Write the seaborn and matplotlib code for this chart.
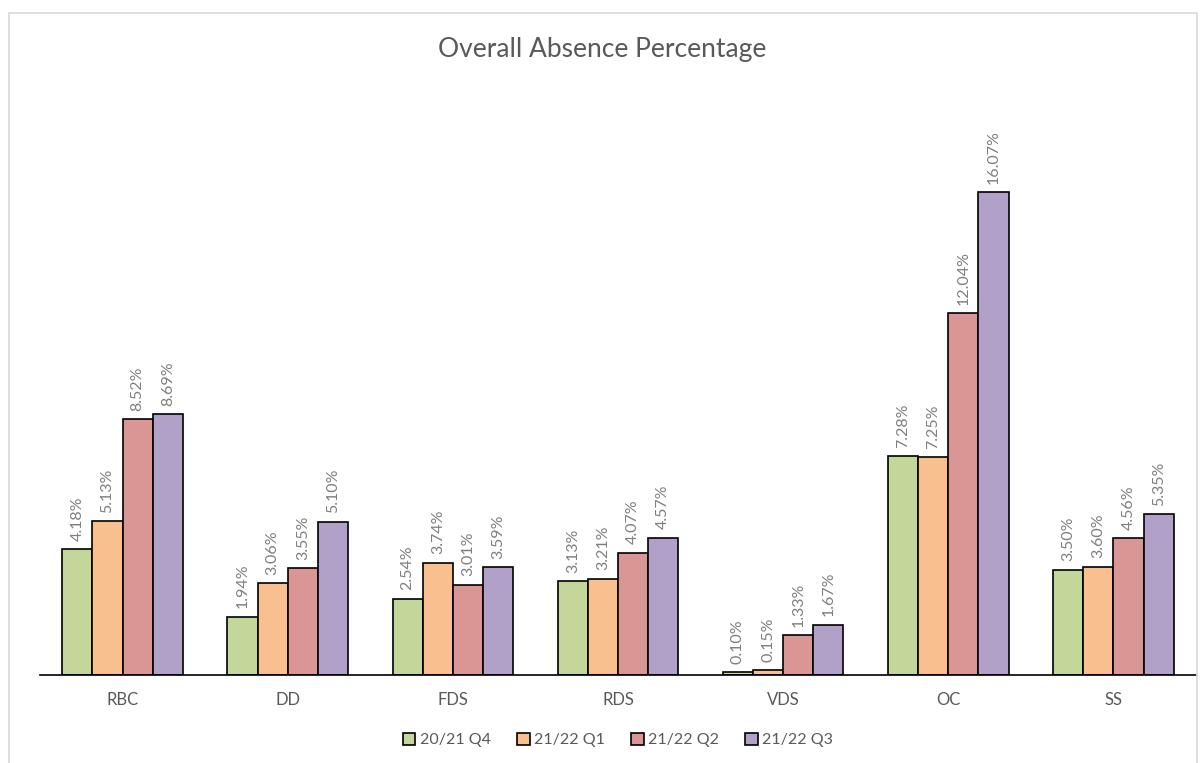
import matplotlib
matplotlib.use("Agg")
import matplotlib.pyplot as plt
from matplotlib.patches import Rectangle
import pandas as pd
import seaborn as sns

# data
sites = ["RBC", "DD", "FDS", "RDS", "VDS", "OC", "SS"]
quarters = ["20/21 Q4", "21/22 Q1", "21/22 Q2", "21/22 Q3"]
q4_2021 = [4.18, 1.94, 2.54, 3.13, 0.10, 7.28, 3.50]
q1_2122 = [5.13, 3.06, 3.74, 3.21, 0.15, 7.25, 3.60]
q2_2122 = [8.52, 3.55, 3.01, 4.07, 1.33, 12.04, 4.56]
q3_2122 = [8.69, 5.10, 3.59, 4.57, 1.67, 16.07, 5.35]
colours = ["#C4D79B", "#FABF8F", "#DA9694", "#B1A0C7"]

series = [q4_2021, q1_2122, q2_2122, q3_2122]
df = pd.DataFrame({
    "site": sites * len(quarters),
    "quarter": [q for q in quarters for _ in sites],
    "pct": [v for s in series for v in s],
})

sns.set_theme(style="white")
plt.rcParams["font.family"] = ["Lato", "DejaVu Sans"]

fig = plt.figure(figsize=(12.04, 7.63), dpi=100)
ax = fig.add_axes([40 / 1204, 88 / 763, 1156 / 1204, 601 / 763])

# light grey chart border like the Excel chart area
fig.patches.append(Rectangle((9 / 1204, -0.01), 1188 / 1204, 1 - 13 / 763 + 0.01,
                             transform=fig.transFigure, fill=False,
                             edgecolor="#D9D9D9", linewidth=1.2, zorder=0))

sns.barplot(data=df, x="site", y="pct", hue="quarter", hue_order=quarters,
            order=sites, palette=colours, width=0.73, gap=0,
            edgecolor="black", linewidth=1.2, saturation=1, ax=ax)

for cont in ax.containers:
    ax.bar_label(cont, labels=[f"{v:.2f}%" for v in cont.datavalues],
                 rotation=90, padding=6, color="#7F7F7F", fontsize=11.5)

ax.set_xlim(-0.5, 6.5)
ax.set_ylim(0, 20)
ax.set_yticks([])
ax.set_xlabel("")
ax.set_ylabel("")
for side in ["top", "right", "left"]:
    ax.spines[side].set_visible(False)
ax.spines["bottom"].set_color("black")
ax.spines["bottom"].set_linewidth(1.2)
ax.tick_params(axis="x", length=0, pad=12, labelsize=12, labelcolor="#595959")

fig.suptitle("Overall Absence Percentage", y=1 - 50 / 763, va="center",
             fontsize=19, color="#595959")

ax.legend(loc="center", bbox_to_anchor=(0.5, -(740 - 675) / 601), ncol=4,
          frameon=False, fontsize=11.5, handlelength=0.8, handleheight=0.8,
          handletextpad=0.3, columnspacing=1.6, labelcolor="#595959")

fig.savefig("out.png", dpi=100)
